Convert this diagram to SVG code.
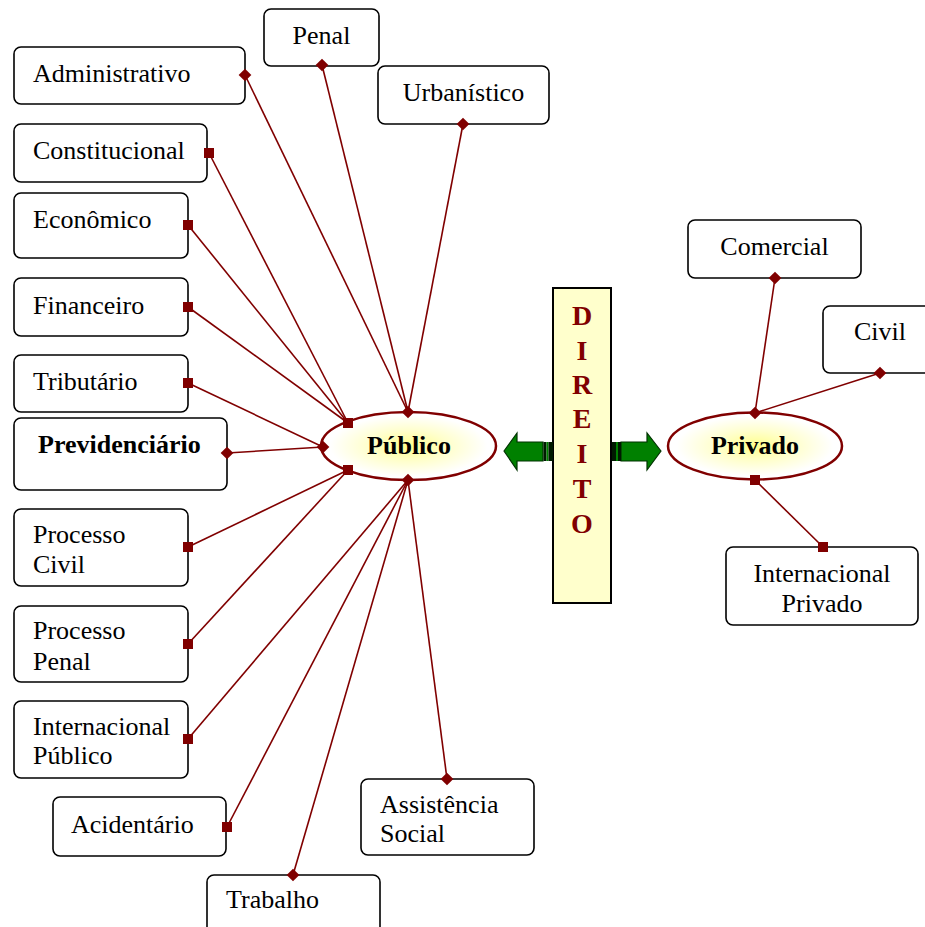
<svg xmlns="http://www.w3.org/2000/svg" width="925" height="927" viewBox="0 0 925 927">
<defs>
  <radialGradient id="glow" cx="50%" cy="50%" r="50%">
    <stop offset="0" stop-color="#ffff8c"/>
    <stop offset="0.45" stop-color="#ffffcc"/>
    <stop offset="0.9" stop-color="#ffffff"/>
  </radialGradient>
  <rect id="sq" x="-5" y="-5" width="10" height="10" fill="#800000"/>
  <rect id="dm" x="-4.5" y="-4.5" width="9" height="9" fill="#800000" transform="rotate(45)"/>
</defs>
<style>
  .box { fill: #ffffff; stroke: #000000; stroke-width: 1.6; }
  .t { font-family: "Liberation Serif", "Times New Roman", serif; font-size: 26px; fill: #000000; }
  .b { font-family: "Liberation Serif", "Times New Roman", serif; font-size: 26px; font-weight: bold; fill: #000000; }
  .ell { fill: url(#glow); stroke: #800000; stroke-width: 2.5; }
  .con line { stroke: #800000; stroke-width: 1.6; }
  .dir { font-family: "Liberation Serif", "Times New Roman", serif; font-size: 28px; font-weight: bold; fill: #800000; text-anchor: middle; }
  .arr { fill: #008000; stroke: #003300; stroke-width: 1.2; }
</style>
<rect width="925" height="927" fill="#ffffff"/>

<g id="connectors" class="con">
  <line x1="245" y1="75" x2="408" y2="412"/>
  <line x1="322" y1="65" x2="408" y2="412"/>
  <line x1="463" y1="124" x2="408" y2="412"/>
  <line x1="209" y1="153" x2="348" y2="423"/>
  <line x1="188" y1="225" x2="348" y2="423"/>
  <line x1="188" y1="307" x2="348" y2="423"/>
  <line x1="188" y1="383" x2="323" y2="447"/>
  <line x1="227" y1="453" x2="323" y2="447"/>
  <line x1="188" y1="547" x2="348" y2="470"/>
  <line x1="188" y1="644" x2="348" y2="470"/>
  <line x1="188" y1="739" x2="408" y2="480"/>
  <line x1="227" y1="827" x2="408" y2="480"/>
  <line x1="293" y1="875" x2="408" y2="480"/>
  <line x1="447" y1="779" x2="408" y2="480"/>
  <line x1="775" y1="278" x2="755" y2="413"/>
  <line x1="880" y1="373" x2="755" y2="413"/>
  <line x1="823" y1="547" x2="755" y2="480"/>
</g>

<g id="direito">
  <rect x="553" y="288" width="58" height="315" fill="#ffffcc" stroke="#000000" stroke-width="2"/>
  <text class="dir" x="582" y="325">D</text>
  <text class="dir" x="582" y="360">I</text>
  <text class="dir" x="582" y="394">R</text>
  <text class="dir" x="582" y="428">E</text>
  <text class="dir" x="582" y="463">I</text>
  <text class="dir" x="582" y="498">T</text>
  <text class="dir" x="582" y="533">O</text>
</g>

<g id="arrow-left">
  <polygon class="arr" points="504,451 517,433 517,442 543,442 543,461 517,461 517,470"/>
  <rect x="543.5" y="442" width="3" height="19" fill="#001a00"/>
  <rect x="546.5" y="442" width="2" height="19" fill="#008000"/>
  <rect x="548.5" y="442" width="4.5" height="19" fill="#001a00"/>
</g>
<g id="arrow-right">
  <polygon class="arr" points="661,451 647,433 647,442 621,442 621,461 647,461 647,470"/>
  <rect x="612" y="442" width="4" height="19" fill="#001a00"/>
  <rect x="616" y="442" width="2" height="19" fill="#008000"/>
  <rect x="618" y="442" width="3" height="19" fill="#001a00"/>
</g>

<g id="publico">
  <ellipse class="ell" cx="408.5" cy="446" rx="87.5" ry="34"/>
  <text class="b" x="409" y="454" text-anchor="middle">Público</text>
</g>
<g id="privado">
  <ellipse class="ell" cx="755" cy="446" rx="87" ry="33.5"/>
  <text class="b" x="755" y="454" text-anchor="middle">Privado</text>
</g>

<g id="administrativo"><rect class="box" x="14" y="47" width="231" height="57" rx="7"/><text class="t" x="33" y="82">Administrativo</text></g>
<g id="penal"><rect class="box" x="264" y="9" width="115" height="57" rx="7"/><text class="t" x="321.5" y="44" text-anchor="middle">Penal</text></g>
<g id="urbanistico"><rect class="box" x="378" y="66" width="171" height="58" rx="7"/><text class="t" x="463.5" y="101" text-anchor="middle">Urbanístico</text></g>
<g id="constitucional"><rect class="box" x="14" y="124" width="193" height="58" rx="7"/><text class="t" x="33" y="159">Constitucional</text></g>
<g id="economico"><rect class="box" x="14" y="193" width="174" height="65" rx="7"/><text class="t" x="33" y="228">Econômico</text></g>
<g id="financeiro"><rect class="box" x="14" y="278" width="174" height="58" rx="7"/><text class="t" x="33" y="314">Financeiro</text></g>
<g id="tributario"><rect class="box" x="14" y="355" width="174" height="57" rx="7"/><text class="t" x="33" y="390">Tributário</text></g>
<g id="previdenciario"><rect class="box" x="14" y="418" width="213" height="72" rx="7"/><text class="b" x="38" y="453">Previdenciário</text></g>
<g id="processo-civil"><rect class="box" x="14" y="509" width="174" height="77" rx="7"/><text class="t" x="33" y="543">Processo</text><text class="t" x="33" y="573">Civil</text></g>
<g id="processo-penal"><rect class="box" x="14" y="606" width="174" height="76" rx="7"/><text class="t" x="33" y="639">Processo</text><text class="t" x="33" y="670">Penal</text></g>
<g id="internacional-publico"><rect class="box" x="14" y="701" width="174" height="77" rx="7"/><text class="t" x="33" y="735">Internacional</text><text class="t" x="33" y="764">Público</text></g>
<g id="acidentario"><rect class="box" x="53" y="797" width="173" height="59" rx="7"/><text class="t" x="71" y="833">Acidentário</text></g>
<g id="trabalho"><rect class="box" x="207" y="875" width="173" height="60" rx="7"/><text class="t" x="226" y="908">Trabalho</text></g>
<g id="assistencia-social"><rect class="box" x="361" y="779" width="173" height="76" rx="7"/><text class="t" x="380" y="813">Assistência</text><text class="t" x="380" y="842">Social</text></g>
<g id="comercial"><rect class="box" x="688" y="220" width="173" height="58" rx="7"/><text class="t" x="774.5" y="255" text-anchor="middle">Comercial</text></g>
<g id="civil"><rect class="box" x="823" y="306" width="110" height="67" rx="7"/><text class="t" x="854" y="340">Civil</text></g>
<g id="internacional-privado"><rect class="box" x="726" y="547" width="192" height="78" rx="7"/><text class="t" x="822" y="582" text-anchor="middle">Internacional</text><text class="t" x="822" y="612" text-anchor="middle">Privado</text></g>

<g id="markers">
  <use href="#dm" x="245" y="75"/>
  <use href="#dm" x="322" y="65"/>
  <use href="#dm" x="463" y="124"/>
  <use href="#sq" x="209" y="153"/>
  <use href="#sq" x="188" y="225"/>
  <use href="#sq" x="188" y="307"/>
  <use href="#sq" x="188" y="383"/>
  <use href="#dm" x="227" y="453"/>
  <use href="#sq" x="188" y="547"/>
  <use href="#sq" x="188" y="644"/>
  <use href="#sq" x="188" y="739"/>
  <use href="#sq" x="227" y="827"/>
  <use href="#dm" x="293" y="875"/>
  <use href="#dm" x="447" y="779"/>
  <use href="#dm" x="408" y="412"/>
  <use href="#sq" x="348" y="423"/>
  <use href="#dm" x="323" y="447"/>
  <use href="#sq" x="348" y="470"/>
  <use href="#dm" x="408" y="480"/>
  <use href="#dm" x="775" y="278"/>
  <use href="#dm" x="880" y="373"/>
  <use href="#dm" x="755" y="413"/>
  <use href="#sq" x="755" y="480"/>
  <use href="#sq" x="823" y="547"/>
</g>
</svg>
